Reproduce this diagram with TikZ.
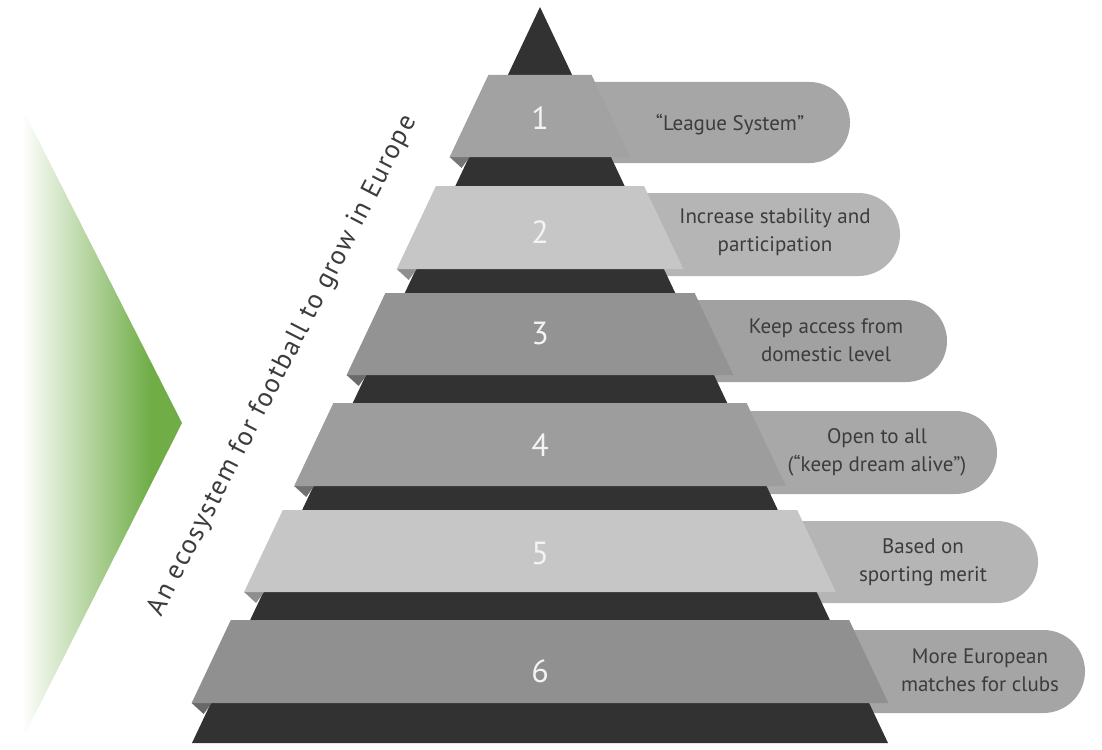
\documentclass[tikz,border=0pt]{standalone}
\usepackage{fontspec}
\setmainfont{PT Sans}
\newfontfamily\slogfont[LetterSpace=5.5]{PT Sans}
\definecolor{darkband}{HTML}{323232}
\definecolor{txtgray}{HTML}{3C3C3C}
\definecolor{numwhite}{HTML}{F4F4F4}
\definecolor{arrowgreen}{RGB}{112,173,71}
\definecolor{bandA}{HTML}{A2A2A2}
\definecolor{bandL}{HTML}{C6C6C6}
\definecolor{bandM}{HTML}{939393}
\definecolor{bandB}{HTML}{9D9D9D}
\definecolor{bandD}{HTML}{909090}
\definecolor{pillA}{HTML}{A6A6A6}
\definecolor{pillL}{HTML}{B5B5B5}
\definecolor{pillM}{HTML}{A1A1A1}
\definecolor{pillB}{HTML}{A8A8A8}
\definecolor{pillD}{HTML}{A5A5A5}
\pgfdeclarehorizontalshading{greenfade}{100bp}{color(0bp)=(white); color(25bp)=(white); color(65bp)=(arrowgreen); color(100bp)=(arrowgreen)}
\newcommand\pyrpill[4]{%
  \pgfmathsetmacro\pr{(#2-#1)/2}%
  \fill[#4] (540,#1) -- ({#3-\pr},#1) arc[start angle=-90,end angle=90,radius=\pr] -- (540,#2) -- cycle;}
\newcommand\pyrband[3]{%
  \pgfmathsetmacro\wt{0.4725*(#1-7)+19.5}%
  \pgfmathsetmacro\wb{0.4725*(#2-7)+19.5}%
  \fill[#3!72!black] ({540-\wb},#2) -- ({540-\wb+20},#2) -- ({540-\wb+12},{#2+11}) -- cycle;
  \fill[#3] ({540-\wt},#1) -- ({540+\wt},#1) -- ({540+\wb},#2) -- ({540-\wb},#2) -- cycle;}
\tikzset{
  pilltext/.style={font=\fontsize{21}{28}\selectfont, text=txtgray, align=center, inner sep=0pt},
  numtext/.style={font=\fontsize{32}{32}\selectfont, text=numwhite, inner sep=0pt},
  slogantext/.style={font=\slogfont\fontsize{27}{30}\selectfont, text=txtgray, inner sep=0pt, anchor=base}
}
\begin{document}
\begin{tikzpicture}[x=1pt,y=-1pt]
\useasboundingbox (0,0) rectangle (1102,749);
% green arrow
\shade[shading=greenfade] (22,108) -- (182,423) -- (22,740) -- cycle;
% pills
\pyrpill{82}{163}{850}{pillA}
\pyrpill{193}{276}{900}{pillL}
\pyrpill{300}{382}{947}{pillM}
\pyrpill{411}{494}{997}{pillB}
\pyrpill{521}{603}{1038}{pillL}
\pyrpill{630}{713}{1085}{pillD}
% dark backbone
\fill[darkband] (540,7) -- (888,743) -- (192,743) -- cycle;
% bands
\pyrband{75}{157}{bandA}
\pyrband{186}{269}{bandL}
\pyrband{293}{375}{bandM}
\pyrband{403}{486}{bandB}
\pyrband{510}{592}{bandL}
\pyrband{620}{703}{bandD}
% numbers
\node[numtext] (n1) at (540,118) {1};
\node[numtext] (n2) at (540,232) {2};
\node[numtext] (n3) at (540,333) {3};
\node[numtext] (n4) at (540,445) {4};
\node[numtext] (n5) at (540,553) {5};
\node[numtext] (n6) at (540,671) {6};
% pill texts
\node[pilltext] (p1) at (730,125) {“League System”};
\node[pilltext] (p2) at (775,232) {Increase stability and\\participation};
\node[pilltext] (p3) at (826,340) {Keep access from\\domestic level};
\node[pilltext] (p4) at (877,452) {Open to all\\(“keep dream alive”)};
\node[pilltext] (p5) at (923,562) {Based on\\sporting merit};
\node[pilltext] (p6) at (980,670) {More European\\matches for clubs};
% slogan
\node[slogantext, rotate=62.8] (slogan) at (289,369) {An ecosystem for football to grow in Europe};
\end{tikzpicture}
\end{document}
